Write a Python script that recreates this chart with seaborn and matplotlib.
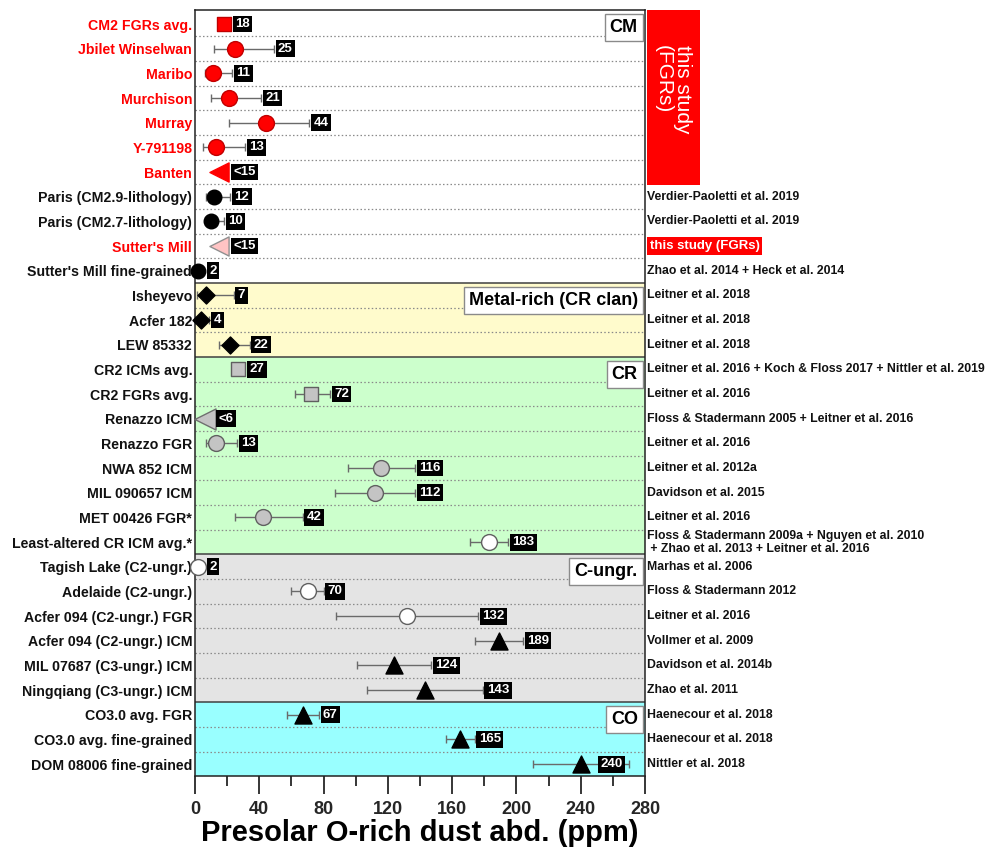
import numpy as np
import pandas as pd
import matplotlib
matplotlib.use("Agg")
import matplotlib.pyplot as plt
import matplotlib.transforms as mtransforms
from matplotlib import font_manager
from matplotlib.patches import Rectangle
import seaborn as sns

# ---------------------------------------------------------------- data
samples = [
    "CM2 FGRs avg.", "Jbilet Winselwan", "Maribo", "Murchison", "Murray",
    "Y-791198", "Banten", "Paris (CM2.9-lithology)", "Paris (CM2.7-lithology)",
    "Sutter's Mill", "Sutter's Mill fine-grained",
    "Isheyevo", "Acfer 182", "LEW 85332",
    "CR2 ICMs avg.", "CR2 FGRs avg.", "Renazzo ICM", "Renazzo FGR",
    "NWA 852 ICM", "MIL 090657 ICM", "MET 00426 FGR*", "Least-altered CR ICM avg.*",
    "Tagish Lake (C2-ungr.)", "Adelaide (C2-ungr.)", "Acfer 094 (C2-ungr.) FGR",
    "Acfer 094 (C2-ungr.) ICM", "MIL 07687 (C3-ungr.) ICM", "Ningqiang (C3-ungr.) ICM",
    "CO3.0 avg. FGR", "CO3.0 avg. fine-grained", "DOM 08006 fine-grained",
]
abundance = [18, 25, 11, 21, 44, 13, 15, 12, 10, 15, 2,
             7, 4, 22,
             27, 72, 6, 13, 116, 112, 42, 183,
             2, 70, 132, 189, 124, 143,
             67, 165, 240]
err_minus = [4, 13, 5, 11, 23, 8, 0, 5, 4, 0, 0,
             6, 4, 7,
             0, 10, 0, 6, 21, 25, 17, 12,
             2, 10, 44, 15, 23, 36,
             10, 9, 30]
err_plus = [4, 24, 12, 20, 27, 18, 0, 10, 8, 0, 0,
            17, 5, 12,
            0, 12, 0, 13, 21, 25, 25, 12,
            4, 10, 44, 15, 23, 36,
            10, 9, 30]
value_text = ["18", "25", "11", "21", "44", "13", "<15", "12", "10", "<15", "2",
              "7", "4", "22",
              "27", "72", "<6", "13", "116", "112", "42", "183",
              "2", "70", "132", "189", "124", "143",
              "67", "165", "240"]
marker_kind = ["red_sq", "red_ci", "red_ci", "red_ci", "red_ci", "red_ci", "red_lim",
               "blk_ci", "blk_ci", "pink_lim", "blk_ci",
               "blk_di", "blk_di", "blk_di",
               "gry_sq", "gry_sq", "gry_lim", "gry_ci", "gry_ci", "gry_ci", "gry_ci",
               "wht_ci",
               "wht_ci", "wht_ci", "wht_ci", "blk_tr", "blk_tr", "blk_tr",
               "blk_tr", "blk_tr", "blk_tr"]
this_study = [True] * 7 + [False, False, True] + [False] * 21
references = [
    "", "", "", "", "", "", "",
    "Verdier-Paoletti et al. 2019", "Verdier-Paoletti et al. 2019",
    "this study (FGRs)", "Zhao et al. 2014 + Heck et al. 2014",
    "Leitner et al. 2018", "Leitner et al. 2018", "Leitner et al. 2018",
    "Leitner et al. 2016 + Koch & Floss 2017 + Nittler et al. 2019",
    "Leitner et al. 2016", "Floss & Stadermann 2005 + Leitner et al. 2016",
    "Leitner et al. 2016", "Leitner et al. 2012a", "Davidson et al. 2015",
    "Leitner et al. 2016",
    "Floss & Stadermann 2009a + Nguyen et al. 2010\n + Zhao et al. 2013 + Leitner et al. 2016",
    "Marhas et al. 2006", "Floss & Stadermann 2012", "Leitner et al. 2016",
    "Vollmer et al. 2009", "Davidson et al. 2014b", "Zhao et al. 2011",
    "Haenecour et al. 2018", "Haenecour et al. 2018", "Nittler et al. 2018",
]
section_names = ["CM", "Metal-rich (CR clan)", "CR", "C-ungr.", "CO"]
section_first = [0, 11, 14, 22, 28]
section_last = [10, 13, 21, 27, 30]
section_colors = ["#ffffff", "#fffbcc", "#ccffcc", "#e4e4e4", "#99ffff"]
x_ticks = [0, 40, 80, 120, 160, 200, 240, 280]

# ---------------------------------------------------------------- style
sns.set_theme(style="white")
available = {f.name for f in font_manager.fontManager.ttflist}
narrow = "Liberation Sans Narrow" if "Liberation Sans Narrow" in available else "Liberation Sans"
plt.rcParams["font.family"] = [narrow, "Liberation Sans", "DejaVu Sans"]

marker_styles = {
    "red_sq":   dict(marker="s", fc="#ff0000", ec="#c00000", s=110),
    "red_ci":   dict(marker="o", fc="#ff0000", ec="#c00000", s=130),
    "red_lim":  dict(marker="<", fc="#ff0000", ec="#ff0000", s=190),
    "blk_ci":   dict(marker="o", fc="#000000", ec="#000000", s=110),
    "pink_lim": dict(marker="<", fc="#ffc4c4", ec="#909090", s=190),
    "blk_di":   dict(marker="D", fc="#000000", ec="#000000", s=75),
    "gry_sq":   dict(marker="s", fc="#c4c4c4", ec="#606060", s=110),
    "gry_lim":  dict(marker="<", fc="#c4c4c4", ec="#707070", s=230),
    "gry_ci":   dict(marker="o", fc="#c4c4c4", ec="#606060", s=130),
    "wht_ci":   dict(marker="o", fc="#ffffff", ec="#606060", s=130),
    "blk_tr":   dict(marker="^", fc="#000000", ec="#000000", s=150),
}

df = pd.DataFrame({
    "sample": samples, "value": abundance, "lo": err_minus, "hi": err_plus,
    "text": value_text, "kind": marker_kind, "row": np.arange(len(samples)),
})

W, H = 990, 851
fig = plt.figure(figsize=(W / 100, H / 100), dpi=100)
fig.patch.set_facecolor("white")
ax_l, ax_r, ax_t, ax_b = 195, 645, 10, 776
ax = fig.add_axes([ax_l / W, 1 - ax_b / H, (ax_r - ax_l) / W, (ax_b - ax_t) / H])
ax.set_xlim(0, 280)
ax.set_ylim(30.48, -0.57)

# group backgrounds, separators and dotted row dividers
for k, (name, first, last, col) in enumerate(zip(section_names, section_first,
                                                 section_last, section_colors)):
    y0 = first - 0.5 if k > 0 else -1
    y1 = last + 0.5 if k < len(section_names) - 1 else 31
    ax.axhspan(y0, y1, color=col, zorder=0, lw=0)
    if k < len(section_names) - 1:
        ax.axhline(last + 0.5, color="#404040", lw=1.1, zorder=1)
    for r in range(first, last):
        ax.axhline(r + 0.5, color="#8a8a8a", lw=0.9, ls=(0, (1.2, 1.8)), zorder=1)
    top = first - 0.5 if k > 0 else -0.57
    ax.text(275.5, top + 0.36, name, ha="right", va="top", fontsize=13,
            fontweight="bold", color="black", zorder=6,
            bbox=dict(boxstyle="square,pad=0.28", fc="white", ec="#8a8a8a", lw=1))

# error bars
with_err = df[(df["lo"] > 0) | (df["hi"] > 0)]
ax.errorbar(with_err["value"], with_err["row"], xerr=[with_err["lo"], with_err["hi"]],
            fmt="none", ecolor="#6a6a6a", elinewidth=1.0, capsize=3, capthick=1.0,
            zorder=2)

# markers
for kind, sub in df.groupby("kind", sort=False):
    st = marker_styles[kind]
    sns.scatterplot(data=sub, x="value", y="row", marker=st["marker"], s=st["s"],
                    color=st["fc"], edgecolor=st["ec"], linewidth=1.0,
                    ax=ax, zorder=3, legend=False, clip_on=False)

# value tags
px_per_unit = (ax_r - ax_l) / 280
for _, r in df.iterrows():
    half = (10 if r["kind"].endswith("lim") else 7) / px_per_unit
    x = max(r["value"] + r["hi"], r["value"] + half) + 2.6
    x = min(x, 252.5)
    ax.text(x, r["row"], r["text"], ha="left", va="center", color="white",
            fontsize=9.5, fontweight="bold", zorder=5,
            bbox=dict(boxstyle="square,pad=0.18", fc="black", ec="none"))

# axes formatting
ax.set_yticks(df["row"])
ax.set_yticklabels(samples, fontsize=10.2, fontweight="bold")
for lab, red in zip(ax.get_yticklabels(), this_study):
    lab.set_color("#ff0000" if red else "#111111")
ax.tick_params(axis="y", length=0, pad=2)
ax.set_xticks(x_ticks)
ax.set_xticks(np.arange(20, 280, 40), minor=True)
ax.set_xticklabels([str(t) for t in x_ticks], fontsize=13, fontweight="bold")
ax.tick_params(axis="x", which="major", direction="out", length=13, width=1.1,
               color="black", pad=5, bottom=True)
ax.tick_params(axis="x", which="minor", direction="out", length=7, width=1.1,
               color="black", bottom=True)
ax.set_xlabel("")
ax.set_ylabel("")
for sp in ax.spines.values():
    sp.set_visible(True)
    sp.set_color("#222222")
    sp.set_linewidth(1.1)

fig.text((ax_l + ax_r) / 2 / W, 1 - 833 / H, "Presolar O-rich dust abd. (ppm)",
         ha="center", va="center", fontsize=21, fontweight="bold", color="black")

# references on the right
trans = mtransforms.blended_transform_factory(ax.transAxes, ax.transData)
for row, ref in enumerate(references):
    if not ref:
        continue
    if this_study[row]:
        ax.text(1.01, row, ref, transform=trans, ha="left", va="center",
                fontsize=9.5, fontweight="bold", color="white", clip_on=False,
                bbox=dict(boxstyle="square,pad=0.2", fc="#ff0000", ec="none"))
    else:
        ax.text(1.004, row, ref, transform=trans, ha="left", va="center",
                fontsize=8.8, fontweight="bold", color="#111111", clip_on=False,
                linespacing=1.1)

# highlighted block for the rows measured in this work
fig.patches.append(Rectangle((647 / W, 1 - 185 / H), 53 / W, 175 / H,
                             transform=fig.transFigure, fc="#ff0000", ec="none"))
fig.text(673 / W, 1 - 89 / H, "this study\n(FGRs)", rotation=270, ha="center",
         va="center", fontsize=15, color="white", multialignment="left",
         linespacing=1.0)

fig.savefig("out.png", dpi=100, facecolor="white")
